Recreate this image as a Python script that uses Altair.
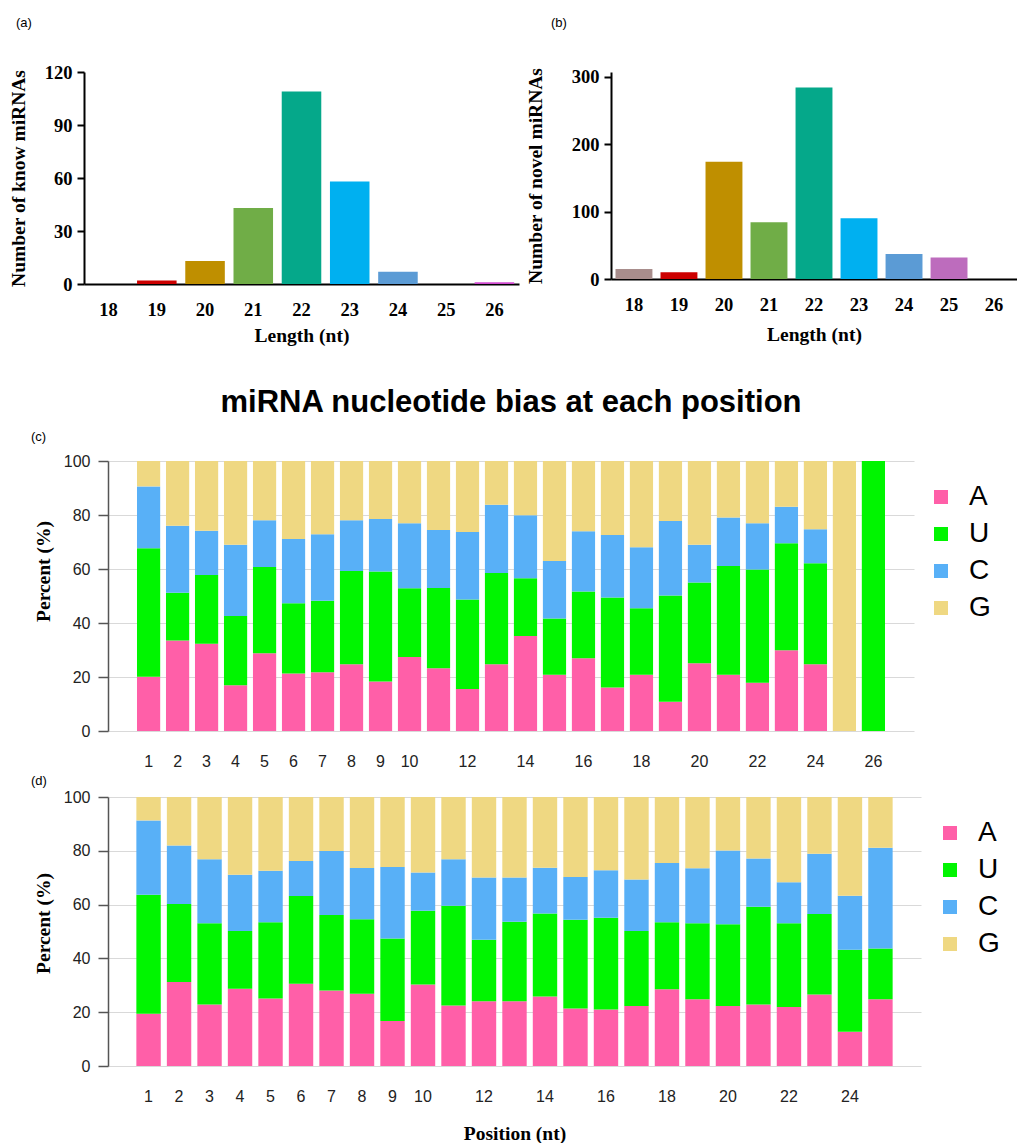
import altair as alt
import pandas as pd

# ---------------- data ----------------
lengths = [18, 19, 20, 21, 22, 23, 24, 25, 26]
known_counts = [0, 2, 13, 43, 109, 58, 7, 0, 1]
novel_counts = [15, 10, 174, 84, 284, 90, 37, 32, 0]
length_colors = ["#A88D8C", "#CC0000", "#BF8F00", "#70AD47", "#05A88A",
                 "#00B0F0", "#5B9BD5", "#BD6CBD", "#D04BD0"]

nucleotides = ["A", "U", "C", "G"]
nucleotide_colors = ["#FF5FA8", "#00F500", "#58B0F7", "#EFD882"]

c_positions = list(range(1, 27))
c_A = [20.1, 33.5, 32.3, 16.9, 28.8, 21.3, 21.8, 24.7, 18.3, 27.4, 23.2, 15.6, 24.7,
       35.2, 20.8, 26.9, 16.1, 20.8, 10.8, 25.1, 20.8, 17.9, 29.9, 24.7, 0, 0]
c_U = [47.6, 17.7, 25.5, 25.7, 31.9, 26.0, 26.4, 34.6, 40.8, 25.5, 29.8, 33.1, 33.8,
       21.4, 20.9, 24.8, 33.3, 24.7, 39.4, 29.9, 40.3, 41.9, 39.6, 37.4, 0, 100]
c_C = [22.9, 24.8, 16.4, 26.4, 17.4, 23.8, 24.7, 18.8, 19.4, 24.0, 21.4, 25.0, 25.3,
       23.3, 21.3, 22.3, 23.2, 22.6, 27.6, 14.0, 18.0, 17.1, 13.6, 12.6, 0, 0]
c_G = [9.4, 24.0, 25.8, 31.0, 21.9, 28.9, 27.1, 21.9, 21.5, 23.1, 25.6, 26.3, 16.2,
       20.1, 37.0, 26.0, 27.4, 31.9, 22.2, 31.0, 20.9, 23.1, 16.9, 25.3, 100, 0]
c_label_values = [1, 2, 3, 4, 5, 6, 7, 8, 9, 10, 12, 14, 16, 18, 20, 22, 24, 26]

d_positions = list(range(1, 26))
d_A = [19.4, 31.2, 22.9, 28.7, 25.1, 30.6, 28.1, 26.9, 16.7, 30.3, 22.5, 24.1, 24.1,
       25.8, 21.4, 21.0, 22.3, 28.5, 24.8, 22.3, 22.9, 21.9, 26.6, 12.7, 24.8]
d_U = [44.3, 29.0, 30.2, 21.5, 28.3, 32.6, 28.0, 27.7, 30.7, 27.4, 37.1, 22.8, 29.5,
       30.9, 33.0, 34.1, 27.9, 24.9, 28.3, 30.4, 36.3, 31.2, 29.9, 30.5, 18.9]
d_C = [27.6, 21.8, 23.8, 20.9, 19.2, 13.0, 23.8, 19.0, 26.6, 14.2, 17.3, 23.2, 16.5,
       17.0, 15.9, 17.7, 19.1, 22.1, 20.4, 27.4, 17.9, 15.2, 22.4, 20.1, 37.4]
d_G = [8.7, 18.0, 23.1, 28.9, 27.4, 23.8, 20.1, 26.4, 26.0, 28.1, 23.1, 29.9, 29.9,
       26.3, 29.7, 27.2, 30.7, 24.5, 26.5, 19.9, 22.9, 31.7, 21.1, 36.7, 18.9]
d_label_values = [1, 2, 3, 4, 5, 6, 7, 8, 9, 10, 12, 14, 16, 18, 20, 22, 24]

SERIF = "Liberation Serif"
SANS = "Liberation Sans"


def long_df(positions, A, U, C, G):
    rows = []
    for i, p in enumerate(positions):
        for k, (n, vals) in enumerate(zip(nucleotides, [A, U, C, G])):
            rows.append({"Position": p, "Nucleotide": n, "Percent": vals[i], "Order": k})
    return pd.DataFrame(rows)


def spacer(w, h, title):
    return alt.Chart(pd.DataFrame({"s": [0]})).mark_point(opacity=0, size=1).encode(
        x=alt.X("s:Q", axis=None), y=alt.Y("s:Q", axis=None)
    ).properties(width=w, height=h, title=title)


def panel_label(text, dx, offset):
    return alt.TitleParams(text=text, anchor="start", frame="group", dx=dx, offset=offset,
                           font=SANS, fontSize=13, fontWeight="normal", color="black",
                           baseline="bottom")


def length_chart(counts, field, ytitle, ymax, yshown, ystep, width, height, ypad, xpad, title):
    df = pd.DataFrame({"Length": lengths, field: counts})
    return alt.Chart(df).mark_bar().encode(
        x=alt.X("Length:O",
                scale=alt.Scale(paddingInner=0.18, paddingOuter=0.1),
                axis=alt.Axis(labelAngle=0, ticks=False, tickSize=0, domainColor="black",
                              domainWidth=2, labelFont=SERIF, labelFontWeight="bold",
                              labelFontSize=18.5, labelColor="black", labelPadding=16,
                              title="Length (nt)", titleFont=SERIF, titleFontWeight="bold",
                              titleFontSize=19.5, titleColor="black", titlePadding=xpad)),
        y=alt.Y(f"{field}:Q", scale=alt.Scale(domain=[0, ymax], nice=False),
                axis=alt.Axis(values=list(range(0, yshown + 1, ystep)), grid=False,
                              domainColor="black", domainWidth=2, tickColor="black",
                              tickWidth=2, tickSize=7, labelFont=SERIF,
                              labelFontWeight="bold", labelFontSize=18.5, labelColor="black",
                              labelPadding=5, title=ytitle, titleFont=SERIF,
                              titleFontWeight="bold", titleFontSize=19.5, titleColor="black",
                              titlePadding=ypad)),
        color=alt.Color("Length:O", scale=alt.Scale(domain=lengths, range=length_colors),
                        legend=None),
    ).properties(width=width, height=height, title=title)


def percent_chart(df, label_values, width, height, pad_outer, xtitle, title_y, legend_x,
                  title=None):
    xaxis_kwargs = dict(values=label_values, labelAngle=0, domain=False, ticks=False,
                        tickSize=0, labelFont=SANS, labelFontSize=16, labelColor="#222222",
                        labelPadding=22)
    if xtitle is None:
        xaxis = alt.Axis(title=None, **xaxis_kwargs)
    else:
        xaxis = alt.Axis(title=xtitle, titleFont=SERIF, titleFontWeight="bold",
                         titleFontSize=19.5, titleColor="black", titlePadding=20,
                         **xaxis_kwargs)
    ch = alt.Chart(df).mark_bar().encode(
        x=alt.X("Position:O", scale=alt.Scale(paddingInner=0.2, paddingOuter=pad_outer),
                axis=xaxis),
        y=alt.Y("Percent:Q", stack="zero", scale=alt.Scale(domain=[0, 100], nice=False),
                axis=alt.Axis(values=[0, 20, 40, 60, 80, 100], grid=True,
                              gridColor="#D9D9D9", gridWidth=1, domainColor="#555555",
                              domainWidth=1.5, tickColor="#555555", tickSize=10,
                              tickWidth=1.5, labelFont=SANS, labelFontSize=16,
                              labelColor="#222222", labelPadding=8, title="Percent (%)",
                              titleFont=SERIF, titleFontSize=19.5, titleFontWeight="bold",
                              titleColor="black", titlePadding=10, titleY=title_y)),
        color=alt.Color("Nucleotide:N",
                        scale=alt.Scale(domain=nucleotides, range=nucleotide_colors),
                        legend=alt.Legend(orient="none", legendX=legend_x, legendY=22,
                                          title=None, symbolType="square", symbolSize=196,
                                          symbolStrokeWidth=0, labelFont=SANS,
                                          labelFontSize=28, labelColor="black",
                                          labelOffset=14, rowPadding=9, padding=0)),
        order=alt.Order("Order:Q"),
    ).properties(width=width, height=height)
    if title is not None:
        ch = ch.properties(title=title)
    return ch


def indep(ch):
    return ch.resolve_scale(x="independent", y="independent", color="independent") \
             .resolve_legend(color="independent")


# ---------------- panels ----------------
A_TOP, A_H = 72, 212
C_TOP, C_H = 461, 270
D_TOP = 797

chart_a = length_chart(known_counts, "Known", "Number of know miRNAs", 120, 120, 30, 435, A_H,
                       16, 8, panel_label("(a)", -68, 20))
chart_b = length_chart(novel_counts, "Novel", "Number of novel miRNAs", 307, 300, 100, 406, 207,
                       26, 12, panel_label("(b)", -60, 24))
row_ab = indep(alt.hconcat(chart_a, chart_b, spacing=92, bounds="flush"))

big_title = alt.TitleParams(text="miRNA nucleotide bias at each position", anchor="middle",
                            frame="group", font=SANS, fontSize=31, fontWeight="bold",
                            color="black", offset=3, baseline="bottom")
chart_c = percent_chart(long_df(c_positions, c_A, c_U, c_C, c_G), c_label_values,
                        806, C_H, 1.0, None, 110, 819, title=big_title)
chart_d = percent_chart(long_df(d_positions, d_A, d_U, d_C, d_G), d_label_values,
                        813, 269, 0.93, "Position (nt)", 126, 828)

c_row = indep(alt.hconcat(spacer(1, C_H, panel_label("(c)", -53, 4)), chart_c,
                          spacing=23, bounds="flush"))
d_row = indep(alt.hconcat(spacer(1, 269, panel_label("(d)", -53, -4)), chart_d,
                          spacing=23, bounds="flush"))
# nested concat groups count with no height in a flush layout, so the spacing
# between rows carries the full row offset
cd = indep(alt.vconcat(c_row, d_row, spacing=D_TOP - C_TOP, bounds="flush"))

chart = indep(alt.vconcat(row_ab, cd, spacing=C_TOP - A_TOP, bounds="flush")).properties(
    padding={"left": 0, "top": 9, "right": 0, "bottom": 0}
).configure_view(stroke=None)

chart.save("out.html", embed_options={"renderer": "svg", "actions": False})
